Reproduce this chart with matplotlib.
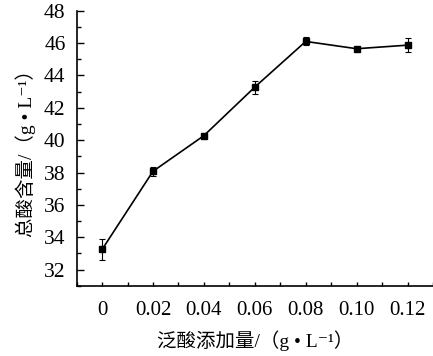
import matplotlib
matplotlib.use("Agg")
import matplotlib.pyplot as plt
from matplotlib.ticker import MultipleLocator, FixedLocator

x_vals = [0, 0.02, 0.04, 0.06, 0.08, 0.10, 0.12]
x_labels = ["0", "0.02", "0.04", "0.06", "0.08", "0.10", "0.12"]
total_acid = [33.25, 38.08, 40.28, 43.28, 46.10, 45.65, 45.87]
errors = [0.65, 0.28, 0.15, 0.40, 0.25, 0.10, 0.42]

fam = ["Liberation Serif", "Noto Sans CJK SC", "DejaVu Sans"]
plt.rcParams["font.family"] = fam

fig = plt.figure(figsize=(4.33, 3.56), dpi=100)
ax = fig.add_axes([0.177, 0.197, 0.823, 0.773])

ax.errorbar(x_vals, total_acid, yerr=errors, color="black", lw=1.2,
            marker="s", markersize=5, capsize=2.5, elinewidth=0.8, capthick=0.8)

ax.set_xlim(-0.01, 0.13)
ax.set_ylim(31, 48)
ax.xaxis.set_major_locator(FixedLocator(x_vals))
ax.set_xticklabels(x_labels)
ax.xaxis.set_minor_locator(MultipleLocator(0.01))
ax.yaxis.set_major_locator(MultipleLocator(2))
ax.yaxis.set_minor_locator(MultipleLocator(1))

for s in ["top", "right"]:
    ax.spines[s].set_visible(False)
for s in ["left", "bottom"]:
    ax.spines[s].set_linewidth(1.2)

ax.tick_params(axis="x", which="both", direction="in", length=3, width=1, labelsize=15, pad=11)
ax.tick_params(axis="y", which="major", direction="in", length=5, width=1, labelsize=15.5, pad=8)
ax.tick_params(axis="y", which="minor", direction="in", length=3, width=1)

ax.set_xlabel("泛酸添加量/（g • L⁻¹）", fontsize=14, labelpad=7)
ax.set_ylabel("总酸含量/（g • L⁻¹）", fontsize=14, labelpad=6)

fig.savefig("out.png", dpi=100)
